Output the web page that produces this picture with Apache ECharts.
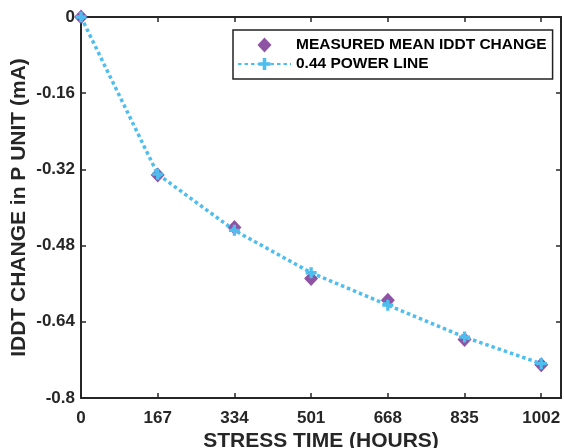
<!DOCTYPE html>
<html>
<head>
<meta charset="utf-8">
<script src="https://cdn.jsdelivr.net/npm/echarts@6/dist/echarts.min.js"></script>
<style>
html,body{margin:0;padding:0;background:#fff;}
#c{width:564px;height:448px;}
</style>
</head>
<body>
<div id="c"></div>
<script>
const hours = [0, 167, 334, 501, 668, 835, 1002];
const measured = [0, -0.332, -0.442, -0.549, -0.595, -0.677, -0.730];
const powerLine = [0, -0.330, -0.448, -0.537, -0.605, -0.672, -0.728];
const xTicks = [0, 167, 334, 501, 668, 835, 1002];
const yTicks = [0, -0.16, -0.32, -0.48, -0.64, -0.8];

const FONT = '"Liberation Sans", Arial, sans-serif';
const AX = '#262626';
const PURPLE = '#72298C';
const CYAN = '#4DBEEE';
const plusPath = 'path://M3.5,0 H6.5 V3.5 H10 V6.5 H6.5 V10 H3.5 V6.5 H0 V3.5 H3.5 Z';
const diamondPath = 'path://M7,0 L14,7.5 L7,15 L0,7.5 Z';

const chart = echarts.init(document.getElementById('c'), null, {renderer: 'canvas'});

function xFmt(v) { return xTicks.indexOf(Math.round(v)) >= 0 ? String(Math.round(v)) : ''; }
function yFmt(v) { return String(+v.toFixed(2)); }

function axisCommon() {
  return {
    axisLine: {show: true, onZero: false, lineStyle: {color: AX, width: 2}},
    axisTick: {show: true, inside: true, length: 5, lineStyle: {color: AX, width: 1.5}},
    splitLine: {show: false}
  };
}

chart.setOption({
  animation: false,
  backgroundColor: '#fff',
  grid: {left: 81, right: 3, top: 17, bottom: 50, containLabel: false, outerBoundsMode: 'none'},
  legend: {
    left: 233, top: 30,
    orient: 'vertical',
    backgroundColor: '#fff',
    borderColor: '#222', borderWidth: 1.5, borderRadius: 0,
    padding: [7, 6, 7, 4],
    itemWidth: 53, itemHeight: 15, itemGap: 3,
    symbolKeepAspect: true,
    textStyle: {fontFamily: FONT, fontWeight: 'bold', fontSize: 15.5, color: '#000'},
    data: [
      {name: 'MEASURED MEAN IDDT CHANGE', icon: diamondPath},
      {name: '0.44 POWER LINE'}
    ]
  },
  xAxis: [
    Object.assign(axisCommon(), {
      type: 'value', min: 0, max: 1045, interval: 167,
      name: 'STRESS TIME (HOURS)', nameLocation: 'middle', nameGap: 33, nameMoveOverlap: false,
      nameTextStyle: {fontFamily: FONT, fontWeight: 'bold', fontSize: 21, color: '#262626'},
      axisLabel: {fontFamily: FONT, fontWeight: 'bold', fontSize: 17, color: '#262626', margin: 12, formatter: xFmt, showMaxLabel: false}
    }),
    Object.assign(axisCommon(), {
      type: 'value', min: 0, max: 1045, interval: 167, position: 'top',
      axisLabel: {show: false}
    })
  ],
  yAxis: [
    Object.assign(axisCommon(), {
      type: 'value', min: -0.8, max: 0, interval: 0.16,
      name: 'IDDT CHANGE in P UNIT (mA)', nameLocation: 'middle', nameGap: 51, nameMoveOverlap: false,
      nameTextStyle: {fontFamily: FONT, fontWeight: 'bold', fontSize: 21, color: '#262626'},
      axisLabel: {fontFamily: FONT, fontWeight: 'bold', fontSize: 17, color: '#262626', margin: 6, formatter: yFmt}
    }),
    Object.assign(axisCommon(), {
      type: 'value', min: -0.8, max: 0, interval: 0.16, position: 'right',
      axisLabel: {show: false}
    })
  ],
  series: [
    {
      name: 'MEASURED MEAN IDDT CHANGE',
      type: 'scatter',
      symbol: 'diamond', symbolSize: [14, 15],
      itemStyle: {color: PURPLE},
      data: hours.map((h, i) => [h, measured[i]]),
      z: 2
    },
    {
      name: '0.44 POWER LINE',
      type: 'line',
      symbol: plusPath, symbolSize: 11,
      showAllSymbol: true,
      itemStyle: {color: CYAN},
      lineStyle: {color: CYAN, width: 3.5, type: [3.5, 3]},
      data: hours.map((h, i) => [h, powerLine[i]]),
      z: 3
    }
  ]
});
</script>
</body>
</html>
